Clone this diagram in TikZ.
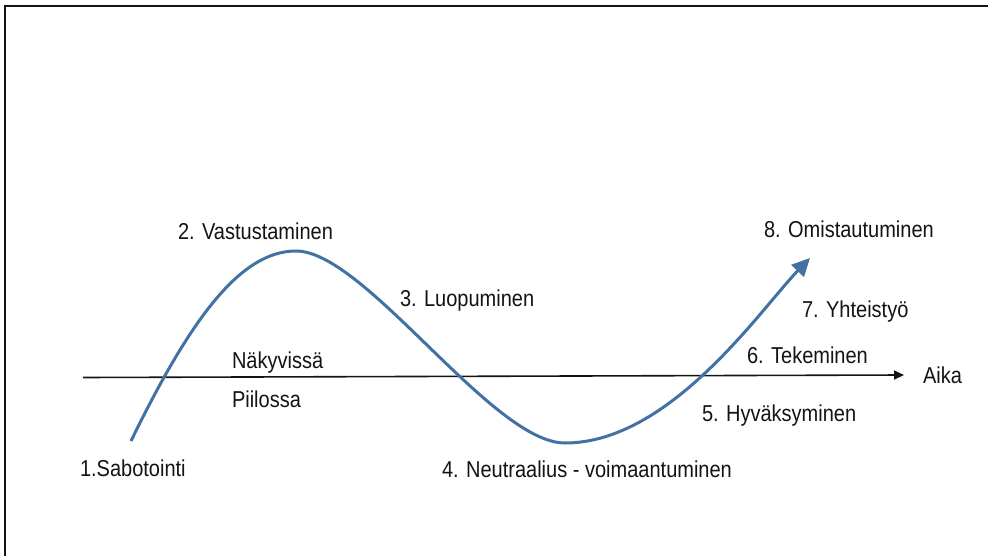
\documentclass[tikz,border=0pt]{standalone}
\usepackage{fontspec}
\setmainfont{Liberation Sans}[FakeStretch=0.87]
\usetikzlibrary{arrows.meta}
\definecolor{curveblue}{RGB}{66,114,164}
\definecolor{ink}{RGB}{20,20,20}
\tikzset{
  lbl/.style={anchor=base west, inner sep=0pt, outer sep=0pt, text=ink, font=\fontsize{23}{26}\selectfont},
  frameline/.style={draw=ink, line width=2.4pt},
  axisline/.style={draw=ink, line width=1.6pt, -{Triangle[length=10pt,width=9pt]}},
  wave/.style={draw=curveblue, line width=3pt, -{Triangle[length=18pt,width=17pt]}}
}
\begin{document}
\begin{tikzpicture}[x=1pt,y=-1pt]
\useasboundingbox (0,0) rectangle (988,556);
\fill[white] (0,0) rectangle (988,556);
% frame (left and top edges visible)
\coordinate (fbl) at (5,560);
\coordinate (ftl) at (5,6);
\coordinate (ftr) at (992,6);
\draw[frameline] (fbl) -- (ftl) -- (ftr);
% axis
\coordinate (ax0) at (83,377.5);
\coordinate (ax1) at (904,375);
\draw[axisline] (ax0) -- (ax1);
% curve
\coordinate (c0) at (131,441);
\coordinate (cpeak) at (296,251);
\coordinate (ctrough) at (565,443);
\coordinate (cend) at (810,258);
\draw[wave] (c0) .. controls (190,320) and (240,251) .. (cpeak)
  .. controls (365,251) and (492,443) .. (ctrough)
  .. controls (670,443) and (760,310) .. (cend);
% labels
\node[lbl] (l2) at (178,240) {2. Vastustaminen};
\node[lbl] (l3) at (400,306) {3. Luopuminen};
\node[lbl] (vis) at (232,368) {Näkyvissä};
\node[lbl] (hid) at (232,407) {Piilossa};
\node[lbl] (l1) at (80,476.5) {1.Sabotointi};
\node[lbl] (l4) at (442,477) {4. Neutraalius - voimaantuminen};
\node[lbl] (l8) at (764,237) {8. Omistautuminen};
\node[lbl] (l7) at (802,317) {7. Yhteistyö};
\node[lbl] (l6) at (747,363) {6. Tekeminen};
\node[lbl] (l5) at (702,421) {5. Hyväksyminen};
\node[lbl] (aika) at (923,383.5) {Aika};
\end{tikzpicture}
\end{document}
